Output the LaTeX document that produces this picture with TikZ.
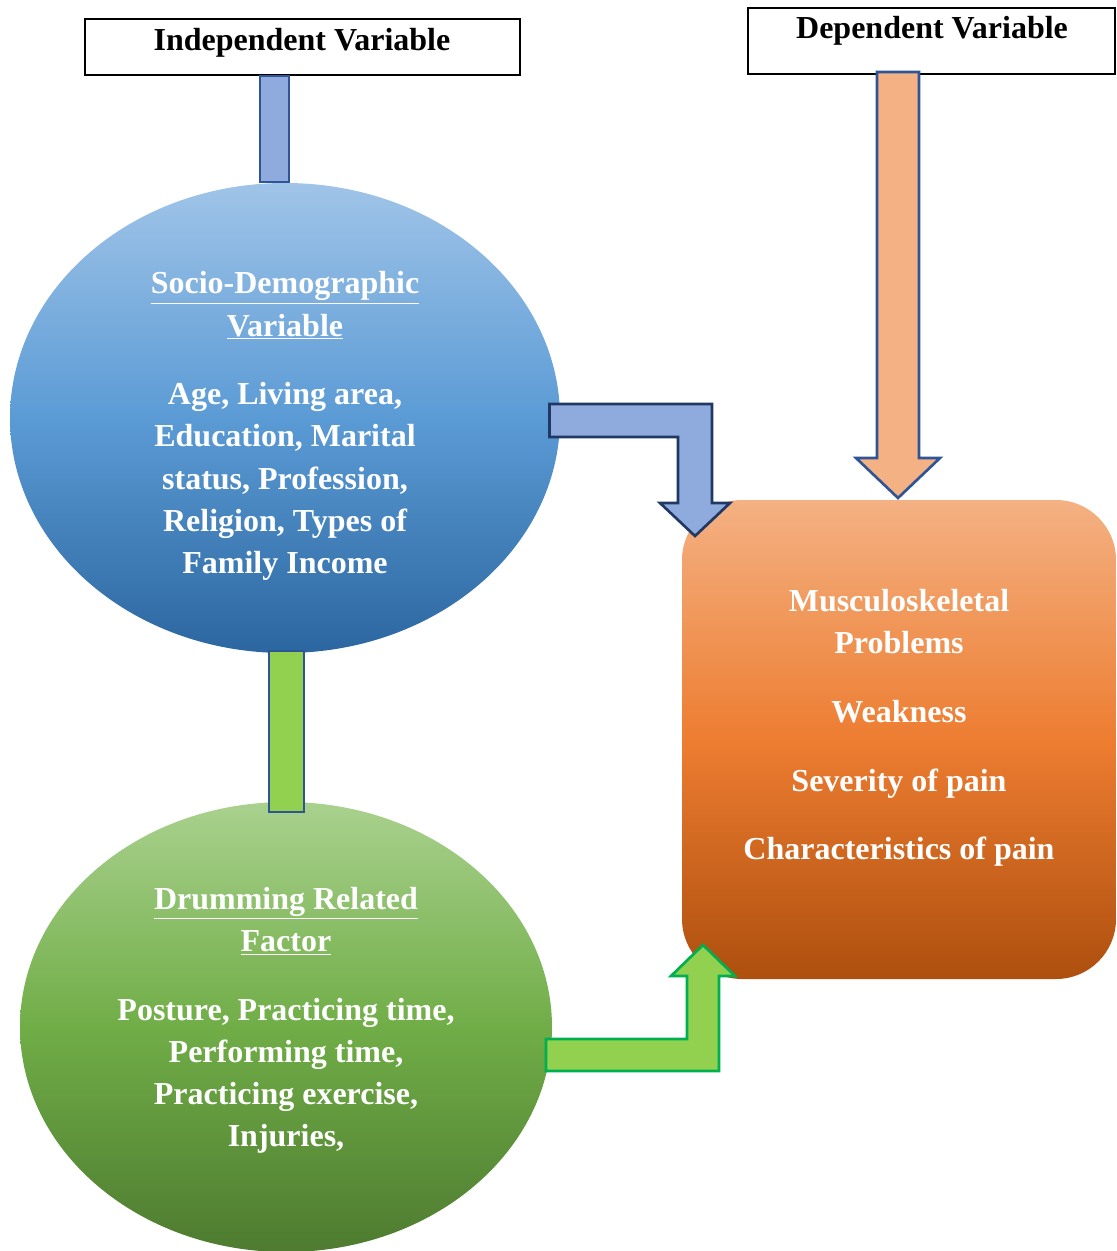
\documentclass[tikz,border=0pt]{standalone}
\usepackage{fontspec}
\setmainfont{Liberation Serif}
\usetikzlibrary{shapes.geometric}
\definecolor{bluetop}{HTML}{A0C4E8}
\definecolor{bluemid}{HTML}{5B9BD5}
\definecolor{bluebot}{HTML}{2C66A0}
\definecolor{greentop}{HTML}{A9D18E}
\definecolor{greenmid}{HTML}{70AD47}
\definecolor{greenbot}{HTML}{4E7B30}
\definecolor{orangetop}{HTML}{F4B183}
\definecolor{orangemid}{HTML}{ED7D31}
\definecolor{orangebot}{HTML}{AE4F0E}
\definecolor{arrowblue}{HTML}{8FAADC}
\definecolor{navy}{HTML}{1F3864}
\definecolor{edgeblue}{HTML}{2F5597}
\definecolor{arrowgreen}{HTML}{92D050}
\definecolor{edgegreen}{HTML}{00B050}
\definecolor{arroworange}{HTML}{F4B183}
\tikzset{
  titlebox/.style={draw=black, line width=1.5pt, fill=white},
  titletext/.style={font=\fontsize{24}{31.5}\selectfont\bfseries, inner sep=0pt},
  bodytext/.style={font=\fontsize{24}{31.6}\selectfont\bfseries, text=white, align=center, inner sep=0pt},
  shaft/.style={line width=2pt},
}
\begin{document}
\begin{tikzpicture}[x=0.75pt,y=-0.75pt]
\useasboundingbox (0,0) rectangle (1116,1251);

% title boxes
\node (indepbox) [titlebox, rectangle, minimum width=326.25pt, minimum height=42pt, inner sep=0pt] at (302.5,47) {};
\node (indeptext) [titletext] at (302,43) {Independent Variable};
\node (depbox) [titlebox, rectangle, minimum width=275.25pt, minimum height=49.5pt, inner sep=0pt] at (931.5,41) {};
\node (deptext) [titletext] at (932,31) {Dependent Variable};

% ellipses
\node (socio) [ellipse, inner sep=0pt, minimum width=412.5pt, minimum height=352.5pt,
  top color=bluetop, bottom color=bluebot, middle color=bluemid] at (285,418) {};
\node (drum) [ellipse, inner sep=0pt, minimum width=399pt, minimum height=337.5pt,
  top color=greentop, bottom color=greenbot, middle color=greenmid] at (286,1027) {};

% outcome box
\node (outcome) [rectangle, rounded corners=45pt, inner sep=0pt, minimum width=325.5pt, minimum height=359.25pt,
  top color=orangetop, bottom color=orangebot, middle color=orangemid] at (899,739.5) {};

% shafts
\draw[shaft, draw=edgeblue, fill=arrowblue] (260,76) rectangle (289,182);
\draw[shaft, draw=edgeblue, fill=arrowgreen] (269,651) rectangle (304,812);

% bent arrows
\draw[line width=2pt, draw=navy, fill=arrowblue, line join=miter]
  (549.5,404) -- (712,404) -- (712,503) -- (730,503) -- (695,536) -- (660,503) -- (678,503) -- (678,437) -- (549.5,437) -- cycle;
\draw[line width=2pt, draw=edgegreen, fill=arrowgreen, line join=miter]
  (546,1039) -- (687,1039) -- (687,976) -- (671,976) -- (703,945) -- (735,976) -- (719,976) -- (719,1071) -- (546,1071) -- cycle;
\draw[line width=2pt, draw=edgeblue, fill=arroworange, line join=miter]
  (877,72) -- (919,72) -- (919,458) -- (940,458) -- (898,498) -- (856,458) -- (877,458) -- cycle;

% texts
\node (sociotext) [bodytext] at (285,426) {\underline{Socio-Demographic}\\ \underline{Variable}\\[20pt]
  Age, Living area,\\ Education, Marital\\ status, Profession,\\ Religion, Types of\\ Family Income};
\node (drumtext) [bodytext] at (286,1020.5) {\underline{Drumming Related}\\ \underline{Factor}\\[20pt]
  Posture, Practicing time,\\ Performing time,\\ Practicing exercise,\\ Injuries,};
\node (outtext) [bodytext] at (899,728) {Musculoskeletal\\ Problems\\[20pt] Weakness\\[20pt] Severity of pain\\[20pt] Characteristics of pain};
\end{tikzpicture}
\end{document}
